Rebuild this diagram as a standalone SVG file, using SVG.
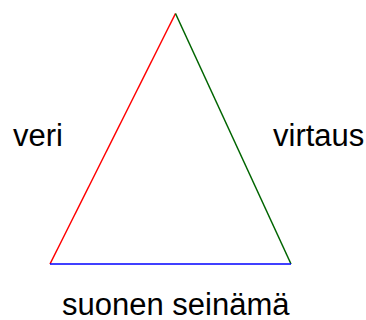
<svg xmlns="http://www.w3.org/2000/svg" width="366" height="320" viewBox="0 0 366 320">
<style>
text{font-family:"Liberation Sans",Arial,sans-serif;font-size:31px;fill:#000}
line{stroke-width:1.5;fill:none}
</style>
<rect width="366" height="320" fill="#fff"/>
<g id="connectors">
<line x1="50" y1="264" x2="175.5" y2="13.5" stroke="#ff0000"/>
<line x1="175.5" y1="13.5" x2="291" y2="264" stroke="#006400"/>
<line x1="50" y1="264" x2="291" y2="264" stroke="#0000ff"/>
</g>
<g id="veri"><text x="13" y="146">veri</text></g>
<g id="virtaus"><text x="273" y="146">virtaus</text></g>
<g id="suonen"><text x="62" y="315">suonen seinämä</text></g>
</svg>
